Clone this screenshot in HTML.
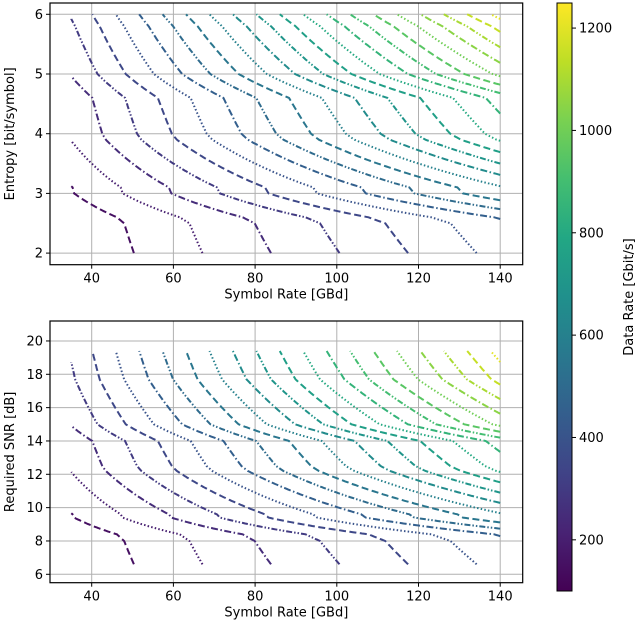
<!DOCTYPE html>
<html><head><meta charset="utf-8"><style>
body{margin:0;background:#fff;}
svg{display:block;font-family:"DejaVu Sans","Liberation Sans",sans-serif;}
</style></head><body>
<svg id="chart" width="640" height="629" viewBox="0 0 640 629" xmlns="http://www.w3.org/2000/svg"></svg>
<script>
// ---- data ----
const levels = [150,200,250,300,350,400,450,500,550,600,650,700,750,800,850,900,950,1000,1050,1100,1150,1200];
const entropyKnots = [2.0,2.5,2.6,3.0,3.1,3.9,4.0,4.6,5.0,5.8,6.0];
const effKnots     = [2.0,2.1,2.18,2.82,2.85,3.86,3.94,4.18,4.86,5.6,5.85];
const snrKnots     = [6.6,8.0,8.4,9.4,9.6,12.2,12.5,14.0,15.0,17.7,19.4];
const xTicks = [40,60,80,100,120,140];
const topYTicks = [2,3,4,5,6];
const botYTicks = [6,8,10,12,14,16,18,20];
const cbTicks = [200,400,600,800,1000,1200];
const rateScale = 1.49;
const cbMin = 100, cbMax = 1249;

const NS='http://www.w3.org/2000/svg';
const svg=document.getElementById('chart');
function mk(tag,attrs,parent){const e=document.createElementNS(NS,tag);for(const k in attrs)e.setAttribute(k,attrs[k]);(parent||svg).appendChild(e);return e;}
const vir=[[68,1,84],[72,35,116],[64,67,135],[52,94,141],[41,120,142],[32,144,140],[34,167,132],[68,190,112],[121,209,81],[189,222,38],[253,231,37]];
function viridis(t){t=Math.max(0,Math.min(1,t));const p=t*10,i=Math.min(9,Math.floor(p)),f=p-i;const a=vir[i],b=vir[i+1];return 'rgb('+a.map((v,j)=>Math.round(v+(b[j]-v)*f)).join(',')+')';}
function interp(xs,ys,x){for(let i=0;i<xs.length-1;i++){if(x<=xs[i+1]){const f=(x-xs[i])/(xs[i+1]-xs[i]);return ys[i]+f*(ys[i+1]-ys[i]);}}return ys[ys.length-1];}
const X0=91.7,XS=4.085;
function xPos(r){return X0+(r-40)*XS;}
const topAx={l:50,r:522.7,t:3,b:264.7};
function yTop(h){return 14.3+(6-h)*59.7;}
const botAx={l:50,r:522.7,t:321,b:582.7};
function yBot(s){return 574.3-(s-6)*16.667;}
const dashes=['7,3.5','1.5,2.2','7,2.5,1.5,2.5','6,2,1.5,2,1.5,2'];

function drawAxes(ax,yTicks,yf,ylabel,name){
  const g=mk('g',{});
  
  
  xTicks.forEach(t=>{const x=xPos(t);
    const gl=mk('line',{x1:x,x2:x,y1:ax.t,y2:ax.b,stroke:'#b0b0b0','stroke-width':1},g);
    
    mk('line',{x1:x,x2:x,y1:ax.b,y2:ax.b+4,stroke:'#000','stroke-width':1},g);
    const tx=mk('text',{x:x,y:ax.b+18,'text-anchor':'middle','font-size':13},g);tx.textContent=t;
    });
  yTicks.forEach(t=>{const y=yf(t);
    const gl=mk('line',{x1:ax.l,x2:ax.r,y1:y,y2:y,stroke:'#b0b0b0','stroke-width':1},g);
    
    mk('line',{x1:ax.l-4,x2:ax.l,y1:y,y2:y,stroke:'#000','stroke-width':1},g);
    const tx=mk('text',{x:ax.l-7,y:y+4.5,'text-anchor':'end','font-size':13},g);tx.textContent=t;
    });
  const xl=mk('text',{x:(ax.l+ax.r)/2,y:ax.b+34,'text-anchor':'middle','font-size':13},g);xl.textContent='Symbol Rate [GBd]';
  
  const cy=(ax.t+ax.b)/2;
  const yl=mk('text',{x:0,y:0,'text-anchor':'middle','font-size':13,transform:'translate(14,'+cy+') rotate(-90)'},g);yl.textContent=ylabel;
  
  return g;
}
function contour(L){
  const pts=[];let prev=null;
  for(let h=2.0;h<=6.0001;h+=0.01){
    const R=L/interp(entropyKnots,effKnots,h);
    const cur=[R,h];
    const inside=R>=35&&R<=140;
    if(prev){const pin=prev[0]>=35&&prev[0]<=140;
      if(inside!==pin){const b=(inside?(prev[0]>140?140:35):(R>140?140:35));const f=(b-prev[0])/(R-prev[0]);pts.push([b,prev[1]+f*(h-prev[1])]);}}
    if(inside)pts.push(cur);
    prev=cur;
  }
  return pts;
}
drawAxes(topAx,topYTicks,yTop,'Entropy [bit/symbol]','top-axes');
drawAxes(botAx,botYTicks,yBot,'Required SNR [dB]','bottom-axes');
const gTop=mk('g',{});
const gBot=mk('g',{});
levels.forEach((dr,i)=>{
  const L=dr/rateScale;const pts=contour(L);if(pts.length<2)return;
  const col=viridis((dr-cbMin)/(cbMax-cbMin));
  const d1=pts.map((p,j)=>(j?'L':'M')+xPos(p[0]).toFixed(1)+','+yTop(p[1]).toFixed(1)).join('');
  const p1=mk('path',{d:d1,fill:'none',stroke:col,'stroke-width':2,'stroke-dasharray':dashes[i%4]},gTop);
  
  const d2=pts.map((p,j)=>(j?'L':'M')+xPos(p[0]).toFixed(1)+','+yBot(interp(entropyKnots,snrKnots,p[1])).toFixed(1)).join('');
  const p2=mk('path',{d:d2,fill:'none',stroke:col,'stroke-width':2,'stroke-dasharray':dashes[i%4]},gBot);
  
});
[topAx,botAx].forEach(ax=>{const f=mk('rect',{x:ax.l,y:ax.t,width:ax.r-ax.l,height:ax.b-ax.t,fill:'none',stroke:'#000','stroke-width':1.2});
  });
// colorbar
const defs=mk('defs',{});const lg=mk('linearGradient',{id:'vg',x1:0,y1:1,x2:0,y2:0},defs);
for(let k=0;k<=10;k++)mk('stop',{offset:k/10,'stop-color':viridis(k/10)},lg);
const cbx=557,cbw=15,cbt=3,cbb=591;
const cb=mk('rect',{x:cbx,y:cbt,width:cbw,height:cbb-cbt,fill:'url(#vg)',stroke:'#000','stroke-width':1});

cbTicks.forEach(v=>{const y=cbb-(v-cbMin)/(cbMax-cbMin)*(cbb-cbt);
  mk('line',{x1:cbx+cbw,x2:cbx+cbw+4,y1:y,y2:y,stroke:'#000','stroke-width':1});
  const t=mk('text',{x:cbx+cbw+7,y:y+4.5,'font-size':13});t.textContent=v;
  });
const cl=mk('text',{x:0,y:0,'text-anchor':'middle','font-size':13,transform:'translate(633,297) rotate(-90)'});cl.textContent='Data Rate [Gbit/s]';

</script>
</body></html>
